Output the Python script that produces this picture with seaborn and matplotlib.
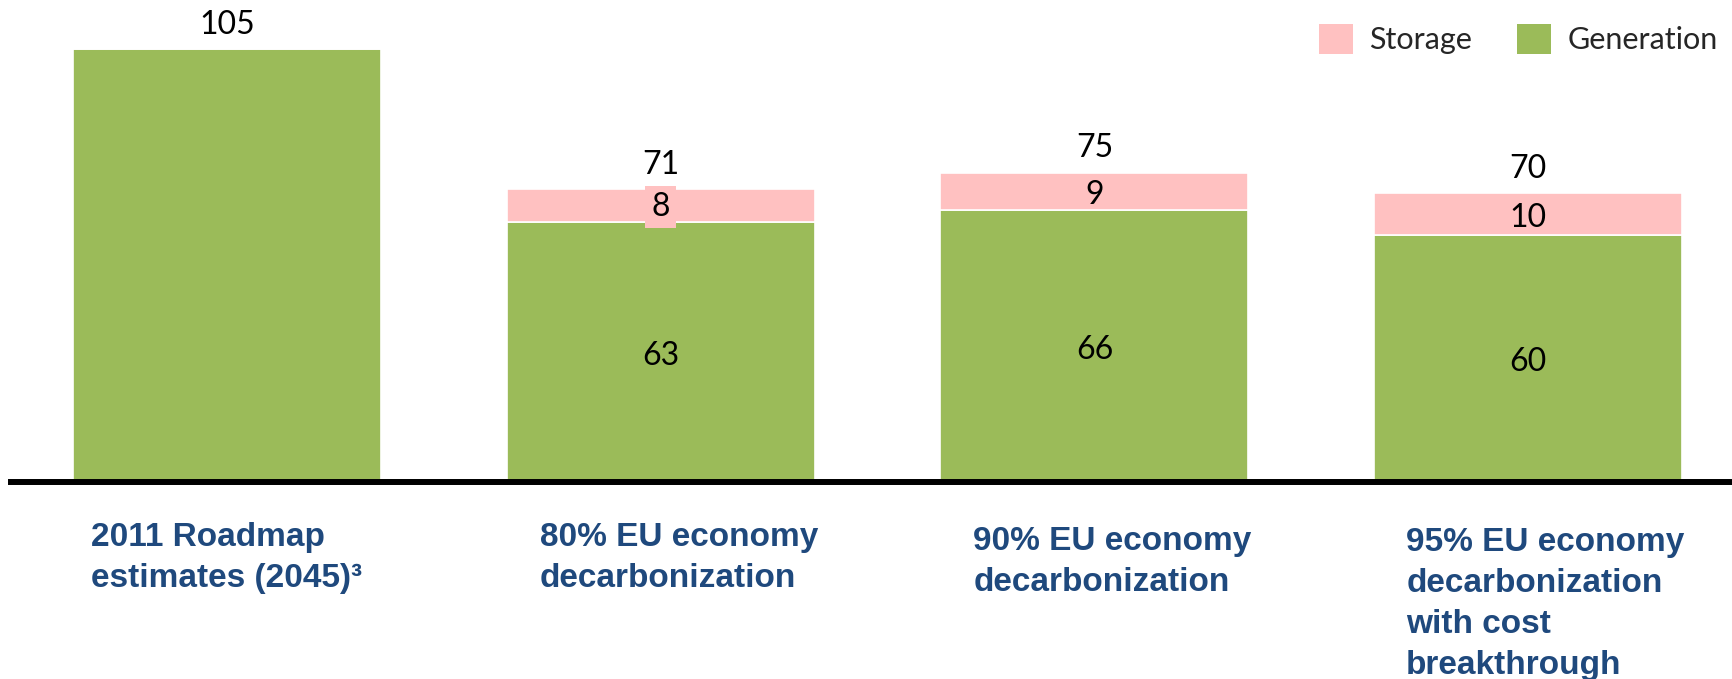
import numpy as np
import pandas as pd
import matplotlib
matplotlib.use("Agg")
import matplotlib.pyplot as plt
from matplotlib.patches import Patch
import seaborn as sns

# Scenario data (GW)
categories = [
    "2011 Roadmap\nestimates (2045)\u00b3",
    "80% EU economy\ndecarbonization",
    "90% EU economy\ndecarbonization",
    "95% EU economy\ndecarbonization\nwith cost\nbreakthrough",
]
generation = [105, 63, 66, 60]
storage = [0, 8, 9, 10]
totals = [105, 71, 75, 70]

GREEN = "#9BBB59"
PINK = "#FFC1C1"
LABEL_BLUE = "#1F497D"

sns.set_theme(style="white")
plt.rcParams["font.family"] = ["Lato", "DejaVu Sans"]

W, H = 1733, 679
fig = plt.figure(figsize=(W / 100, H / 100), dpi=100)
fig.patch.set_facecolor("white")

# axes: baseline at y=482 px from top, spanning x=11..1733
base_px = 482
ax = fig.add_axes([11 / W, (H - base_px) / H, (W - 11) / W, base_px / H])
ax.set_facecolor("white")

df = pd.DataFrame({"cat": categories, "gen": generation, "sto": storage, "tot": totals})
bar_w = 0.71

sns.barplot(data=df, x="cat", y="gen", order=categories, color=GREEN, width=bar_w,
            saturation=1, edgecolor="white", linewidth=1.2, ax=ax)
sns.barplot(data=df, x="cat", y="sto", order=categories, color=PINK, width=bar_w,
            saturation=1, edgecolor="white", linewidth=1.2, ax=ax,
            bottom=np.array(generation, dtype=float))

# scale: 105 reaches 49 px from the top; bars 433.7 px apart
px_per_unit = (base_px - 49) / 105.0
ax.set_ylim(0, base_px / px_per_unit)
spacing_px = 433.7
x0 = -(227 - 11) / spacing_px
ax.set_xlim(x0, x0 + (W - 11) / spacing_px)

gen_cont, sto_cont = ax.containers[0], ax.containers[1]

# segment values
gen_texts = ax.bar_label(gen_cont,
                         labels=["" if s == 0 else str(g) for g, s in zip(generation, storage)],
                         label_type="center", fontsize=23, color="black")
sto_texts = ax.bar_label(sto_cont, labels=["" if s == 0 else str(s) for s in storage],
                         label_type="center", fontsize=23, color="black")
for t in list(gen_texts) + list(sto_texts):
    t.xyann = (0, -3.0)
# the first storage value sits on its own pink tag
sto_texts[1].xyann = (0, -1.0)
sto_texts[1].set_bbox(dict(boxstyle="square,pad=0.2", fc=PINK, ec="none"))

# totals above each bar
for i, t in enumerate(totals):
    ax.annotate(str(t), xy=(i, t), xytext=(0, 17.5), textcoords="offset points",
                ha="center", va="center", fontsize=23, color="black")

# category labels below the baseline
label_dx_px = [18, 33, 33, 32]
label_dy_px = [40, 40, 44, 45]
for i, (lab, dx, dy) in enumerate(zip(categories, label_dx_px, label_dy_px)):
    ax.annotate(lab, xy=(i - bar_w / 2, 0), xytext=(dx * 0.72, -dy * 0.72),
                textcoords="offset points", ha="left", va="top",
                fontsize=24, fontweight="bold", color=LABEL_BLUE,
                family=["Liberation Sans", "DejaVu Sans"], linespacing=1.42,
                annotation_clip=False)

ax.set_xlabel("")
ax.set_ylabel("")
ax.set_xticks([])
ax.set_yticks([])
for side in ["top", "left", "right"]:
    ax.spines[side].set_visible(False)
ax.spines["bottom"].set_color("black")
ax.spines["bottom"].set_linewidth(4.3)
ax.spines["bottom"].set_zorder(5)

handles = [Patch(facecolor=PINK, edgecolor="none", label="Storage"),
           Patch(facecolor=GREEN, edgecolor="none", label="Generation")]
fig.legend(handles=handles, loc="upper right", bbox_to_anchor=(1718 / W, 1 - 24 / H),
           ncol=2, frameon=False, fontsize=22, handlelength=1.12, handleheight=1.12,
           handletextpad=0.55, columnspacing=1.45, borderpad=0, borderaxespad=0)

fig.savefig("out.png", dpi=100, facecolor="white")
